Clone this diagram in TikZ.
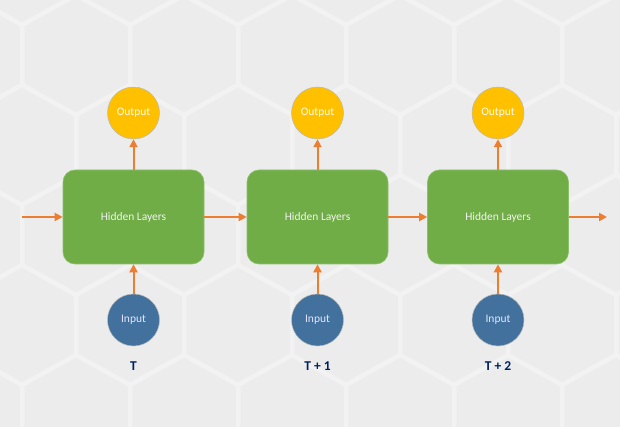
\documentclass[tikz,border=0pt]{standalone}
\usepackage{fontspec}
\setmainfont{Carlito}
\usetikzlibrary{arrows.meta}
\definecolor{bgc}{HTML}{ECECEC}
\definecolor{hexc}{HTML}{F2F2F2}
\definecolor{hgreen}{HTML}{70AD47}
\definecolor{hgreenb}{HTML}{8CBF6A}
\definecolor{oyellow}{HTML}{FFC000}
\definecolor{iblue}{HTML}{41719C}
\definecolor{arrc}{HTML}{ED7D31}
\definecolor{navy}{HTML}{002060}
\definecolor{cbord}{HTML}{B8B8B8}
\tikzset{
  hexline/.style={draw=hexc, line width=4.5pt, line join=round},
  hlbox/.style={rectangle, rounded corners=12pt, minimum width=141pt, minimum height=94pt,
    fill=hgreen, draw=hgreenb, line width=0.6pt, text=white!95!black, font=\fontsize{11.5}{13}\selectfont, inner sep=0pt},
  outnode/.style={circle, minimum size=52pt, inner sep=0pt, fill=oyellow, draw=cbord, line width=0.5pt,
    text=white!95!yellow, font=\fontsize{11.5}{13}\selectfont},
  innode/.style={circle, minimum size=52pt, inner sep=0pt, fill=iblue, draw=cbord, line width=0.5pt,
    text=white!90!blue, font=\fontsize{11.5}{13}\selectfont},
  tlab/.style={text=navy, font=\fontsize{13.5}{15}\selectfont\bfseries, inner sep=0pt},
  arr/.style={draw=arrc, line width=2pt, -{Triangle[length=8pt,width=8pt]}, shorten >=0pt}
}
\begin{document}
\begin{tikzpicture}[x=1pt,y=-1pt]
\useasboundingbox (0,0) rectangle (620,427);
\begin{scope}
\clip (0,0) rectangle (620,427);
\fill[bgc] (0,0) rectangle (620,427);
\foreach \r in {-1,...,5}{
  \foreach \k in {-1,...,6}{
    \pgfmathsetmacro\cx{76+108*\k+54*mod(\r+2,2)}
    \pgfmathsetmacro\cy{55+90*\r}
    \draw[hexline] (\cx-54,\cy-30) -- (\cx,\cy-60) -- (\cx+54,\cy-30) -- (\cx+54,\cy+30) -- (\cx,\cy+60) -- (\cx-54,\cy+30) -- cycle;
  }
}
\end{scope}

\node[hlbox] (h1) at (133.5,217) {Hidden Layers};
\node[hlbox] (h2) at (317.5,217) {Hidden Layers};
\node[hlbox] (h3) at (498,217) {Hidden Layers};

\node[outnode] (o1) at (133.5,113) {Output};
\node[outnode] (o2) at (317.5,113) {Output};
\node[outnode] (o3) at (498,113) {Output};

\node[innode] (i1) at (133.5,320) {Input};
\node[innode] (i2) at (317.5,320) {Input};
\node[innode] (i3) at (498,320) {Input};

\node[tlab] (t1) at (133.5,366) {T};
\node[tlab] (t2) at (317.5,366) {T + 1};
\node[tlab] (t3) at (498,366) {T + 2};

\coordinate (lin) at (22,217);
\coordinate (rout) at (607,217);

\draw[arr] (lin) -- (h1.west);
\draw[arr] (h1.east) -- (h2.west);
\draw[arr] (h2.east) -- (h3.west);
\draw[arr] (h3.east) -- (rout);

\draw[arr] (h1.north) -- (o1.south);
\draw[arr] (h2.north) -- (o2.south);
\draw[arr] (h3.north) -- (o3.south);

\draw[arr] (i1.north) -- (h1.south);
\draw[arr] (i2.north) -- (h2.south);
\draw[arr] (i3.north) -- (h3.south);
\end{tikzpicture}
\end{document}
